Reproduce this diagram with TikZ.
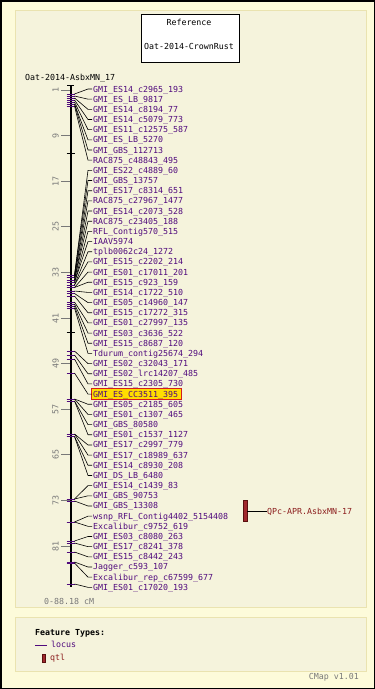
\documentclass[tikz,border=0pt]{standalone}
\usepackage{fontspec}
\newfontfamily\pix{DejaVu Sans Mono}
\usetikzlibrary{calc}
\definecolor{outerbg}{HTML}{FDFBDA}
\definecolor{panelbg}{HTML}{F5F3DC}
\definecolor{panelline}{HTML}{EAE3B0}
\definecolor{loccol}{RGB}{80,10,125}
\definecolor{qtltext}{RGB}{140,30,30}
\definecolor{qtlfill}{RGB}{160,40,45}
\definecolor{qtldraw}{RGB}{90,15,15}
\definecolor{scalegray}{RGB}{120,120,120}
\definecolor{hlfill}{RGB}{255,221,0}
\definecolor{hldraw}{RGB}{210,30,30}
\begin{document}
\begin{tikzpicture}[x=1pt,y=-1pt,
  every node/.style={font=\pix\fontsize{8.3}{10}\selectfont, inner sep=0pt},
  panel/.style={draw=panelline, fill=panelbg, line width=1pt},
  loclabel/.style={anchor=base west, text=loccol},
  conn/.style={draw=black, line width=0.6pt},
  locmark/.style={draw=loccol, line width=0.8pt},
  blkmark/.style={draw=black, line width=0.8pt},
  scaletick/.style={draw=scalegray, line width=0.8pt},
  scalelab/.style={text=scalegray, rotate=90},
  qtlbar/.style={draw=qtldraw, fill=qtlfill, line width=0.6pt, minimum width=4pt, minimum height=21pt},
  hl/.style={draw=hldraw, fill=hlfill, line width=0.8pt}]
\useasboundingbox (0,0) rectangle (375,689);
\fill[outerbg] (0,0) rectangle (375,689);
\draw[black, line width=1.5pt] (0.75,0.75) rectangle (374.25,688.25);
\draw[panel] (15,10) rectangle (366,607);
\draw[panel] (15,617) rectangle (366,671);
% reference box
\node[draw, fill=white, line width=0.8pt, minimum width=98pt, minimum height=48pt] (ref) at (190.5,38.3) {};
\node (reft) at (189,22.5) {Reference};
\node (refn) at (189,46) {Oat-2014-CrownRust};
\node[anchor=base west] (mt) at (25,80.3) {Oat-2014-AsbxMN\_17};
% scale ticks
\foreach \c in {1,9,...,81} {
  \pgfmathsetmacro\ty{84.3+5.7*\c}
  \draw[scaletick] (61,\ty) -- (70,\ty);
  \node[scalelab] (s\c) at (55.5,\ty) {\c};
}
% axis
\coordinate (atop) at (70.5,85);
\coordinate (abot) at (70.5,587);
\draw[black, line width=2pt] (atop) -- (abot);
\draw[black, line width=1.5pt] (67,85.5) -- (74,85.5);
\draw[blkmark] (66.5,153) -- (74.5,153);
\draw[blkmark] (66.5,332) -- (74.5,332);
% highlight
\draw[hl] (91.5,388.8) rectangle (181.5,399.6);
% loci
\foreach \i/\nm/\ly in {
1/GMI\_ES14\_c2965\_193/94,
2/GMI\_ES\_LB\_9817/96,
3/GMI\_ES14\_c8194\_77/98,
4/GMI\_ES14\_c5079\_773/100,
5/GMI\_ES11\_c12575\_587/102,
6/GMI\_ES\_LB\_5270/104,
7/GMI\_GBS\_112713/104,
8/RAC875\_c48843\_495/106,
9/GMI\_ES22\_c4889\_60/275,
10/GMI\_GBS\_13757/275,
11/GMI\_ES17\_c8314\_651/277.5,
12/RAC875\_c27967\_1477/277.5,
13/GMI\_ES14\_c2073\_528/280,
14/RAC875\_c23405\_188/280,
15/RFL\_Contig570\_515/282.5,
16/IAAV5974/282.5,
17/tplb0062c24\_1272/285,
18/GMI\_ES15\_c2202\_214/285,
19/GMI\_ES01\_c17011\_201/287.5,
20/GMI\_ES15\_c923\_159/287.5,
21/GMI\_ES14\_c1722\_510/291,
22/GMI\_ES05\_c14960\_147/293.5,
23/GMI\_ES15\_c17272\_315/296,
24/GMI\_ES01\_c27997\_135/302,
25/GMI\_ES03\_c3636\_522/304,
26/GMI\_ES15\_c8687\_120/306,
27/Tdurum\_contig25674\_294/308,
28/GMI\_ES02\_c32043\_171/351,
29/GMI\_ES02\_lrc14207\_485/355,
30/GMI\_ES15\_c2305\_730/359,
31/GMI\_ES\_CC3511\_395/373,
32/GMI\_ES05\_c2185\_605/399,
33/GMI\_ES01\_c1307\_465/399,
34/GMI\_GBS\_80580/401,
35/GMI\_ES01\_c1537\_1127/401,
36/GMI\_ES17\_c2997\_779/434,
37/GMI\_ES17\_c18989\_637/434,
38/GMI\_ES14\_c8930\_208/436.5,
39/GMI\_DS\_LB\_6480/436.5,
40/GMI\_ES14\_c1439\_83/499,
41/GMI\_GBS\_90753/499,
42/GMI\_GBS\_13308/501,
43/wsnp\_RFL\_Contig4402\_5154408/522,
44/Excalibur\_c9752\_619/522,
45/GMI\_ES03\_c8080\_263/541,
46/GMI\_ES17\_c8241\_378/543,
47/GMI\_ES15\_c8442\_243/552,
48/Jagger\_c593\_107/562,
49/Excalibur\_rep\_c67599\_677/563,
50/GMI\_ES01\_c17020\_193/584} {
  \pgfmathsetmacro\ty{89+(\i-1)*10.17}
  \draw[locmark] (66.5,\ly) -- (74.5,\ly);
  \coordinate (P\i) at (74.5,\ly);
  \coordinate (T\i) at (92,\ty);
  \node[loclabel] (L\i) at (93,\ty+3) {\nm};
  \draw[conn] (P\i) -- ($(T\i)+(-4,0)$) -- (T\i);
}
% qtl
\node[qtlbar] (q) at (245,511.2) {};
\node[anchor=base west, text=qtltext] (qlab) at (267,514) {QPc-APR.AsbxMN-17};
\draw[conn] (q.east) -- (qlab.west |- q.east);
% scale caption
\node[anchor=base west, text=scalegray] (range) at (44,604) {0-88.18 cM};
% legend
\node[anchor=base west, font=\pix\bfseries\fontsize{8.3}{10}\selectfont] (ft) at (35,635) {Feature Types:};
\coordinate (lk1) at (35,645);
\coordinate (lk2) at (47,645);
\draw[draw=loccol, line width=1pt] (lk1) -- (lk2);
\node[anchor=base west, text=loccol] (lloc) at (51,647.5) {locus};
\node[qtlbar, minimum width=3pt, minimum height=8pt] (lq) at (43.6,658) {};
\node[anchor=base west, text=qtltext] (lqtl) at (50,660.5) {qtl};
\node[anchor=base east, text=scalegray] (ver) at (359,679) {CMap v1.01};
\end{tikzpicture}
\end{document}
